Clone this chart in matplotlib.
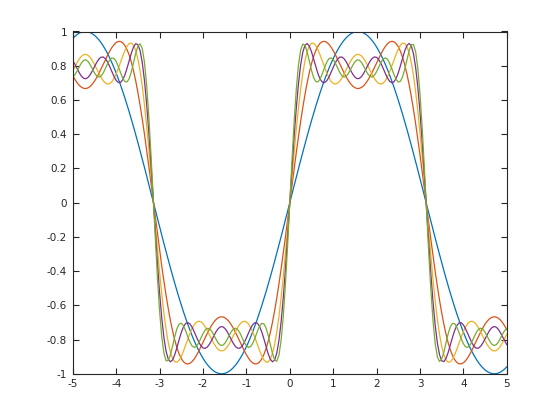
import numpy as np
import matplotlib
matplotlib.use('Agg')
import matplotlib.pyplot as plt

# partial sums of the square-wave Fourier series: sum of sin(k*x)/k
harmonics = [1, 3, 5, 7, 9]
amplitudes = [1, 1/3, 1/5, 1/7, 1/9]
colors = ['#0072bd', '#d95319', '#edb120', '#7e2f8e', '#77ac30']
x_range = (-5, 5)
xticks = [-5, -4, -3, -2, -1, 0, 1, 2, 3, 4, 5]
yticks = [-1, -0.8, -0.6, -0.4, -0.2, 0, 0.2, 0.4, 0.6, 0.8, 1]

x = np.linspace(x_range[0], x_range[1], 201)

fig = plt.figure(figsize=(5.6, 4.2), dpi=100)
ax = fig.add_axes([0.13, 0.11, 0.775, 0.815])

y = np.zeros_like(x)
for k, a, c in zip(harmonics, amplitudes, colors):
    y = y + a * np.sin(k * x)
    ax.plot(x, y, color=c, linewidth=0.9)

ax.set_xlim(*x_range)
ax.set_ylim(-1, 1)
ax.set_xticks(xticks)
ax.set_yticks(yticks)
ax.set_xticklabels([str(t) for t in xticks])
ax.set_yticklabels(['-1', '-0.8', '-0.6', '-0.4', '-0.2', '0', '0.2', '0.4', '0.6', '0.8', '1'])
ax.tick_params(direction='in', top=True, right=True, length=4, width=0.8,
               labelsize=7.5, colors='#262626', pad=4)
for s in ax.spines.values():
    s.set_linewidth(0.8)
    s.set_color('#262626')

fig.savefig('out.png', dpi=100)
